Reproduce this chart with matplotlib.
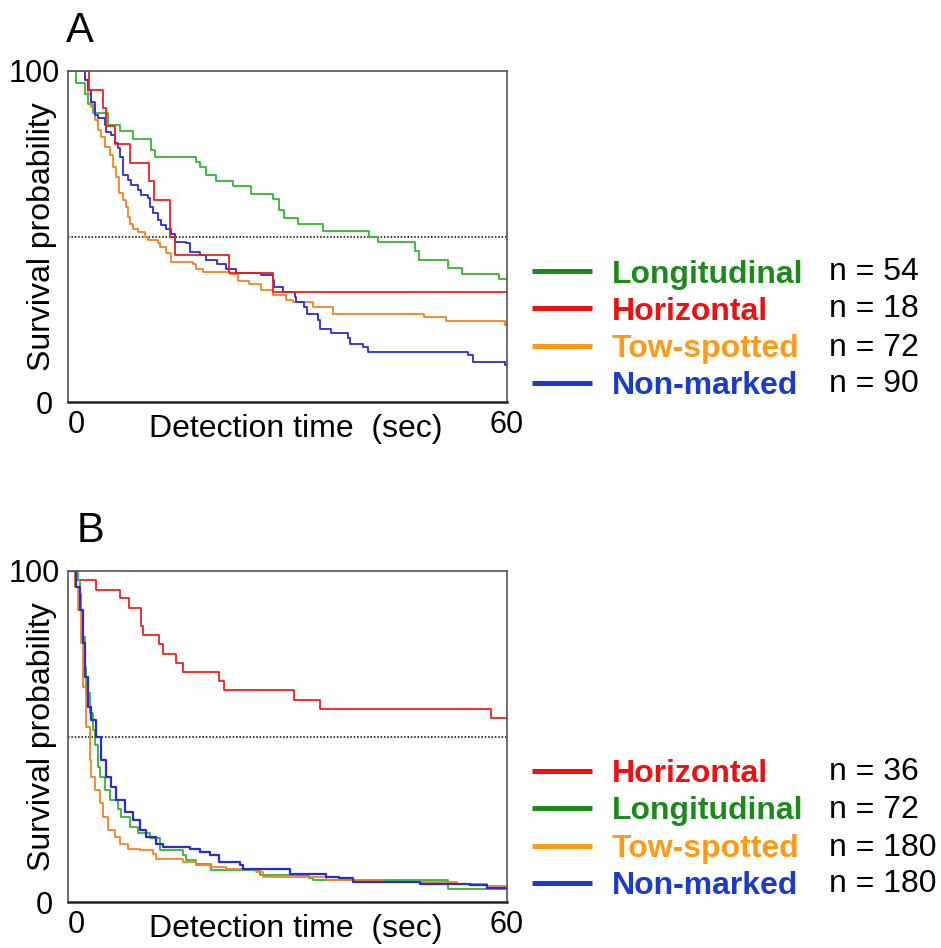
import matplotlib
matplotlib.use("Agg")
import matplotlib.pyplot as plt
from matplotlib.lines import Line2D

plt.rcParams['font.family'] = ['Liberation Sans', 'DejaVu Sans']

# ---------------- Panel A data ----------------
a_long_t = [0, 1.05, 2.3, 2.8, 3.4, 5.47, 7.06, 8.88, 11.39, 11.85, 17.54, 18.0, 18.9, 20.2, 22.6,
            25.0, 28.0, 28.9, 29.5, 31.5, 34.9, 41.1, 42.4, 47.4, 48.0, 51.9, 53.9, 58.9, 60]
a_long_s = [100, 96.3, 93, 90, 87.4, 83.7, 82.0, 79.4, 76.1, 74.1, 72.6, 70.9, 68.5, 66.8, 65.2,
            62.8, 61.2, 58.0, 55.7, 53.9, 51.7, 49.9, 48.4, 45.7, 42.8, 40.6, 38.8, 37.3, 37.3]

a_hor_t = [0, 2.9, 4.78, 5.2, 6.38, 8.43, 11.07, 11.75, 13.9, 14.6, 21.96, 28.0, 60]
a_hor_s = [100, 94.4, 88.9, 83.3, 77.8, 72.2, 66.7, 61.1, 50.0, 44.4, 38.9, 33.3, 33.3]

a_tow_t = [0, 2.28, 2.73, 3.19, 3.64, 4.1, 4.56, 5.01, 5.69, 6.15, 6.61, 6.97, 7.52, 7.97, 8.2,
           8.43, 8.88, 9.57, 10.48, 10.93, 12.3, 12.53, 13.44, 14.12, 17.08, 17.54, 18.45, 22.1,
           23.2, 24.8, 26.4, 28.0, 29.8, 30.75, 33.5, 36.2, 48.7, 51.7, 59.7, 60]
a_tow_s = [100, 97.3, 93.1, 89.1, 85.1, 82.1, 80.1, 77.1, 74.6, 71.1, 68.0, 63.0, 61.0, 59.0, 55.9,
           53.9, 52.4, 51.4, 49.9, 48.9, 48.1, 46.9, 44.9, 42.3, 41.8, 40.3, 39.3, 38.8,
           36.6, 35.6, 33.8, 32.3, 30.9, 30.2, 28.7, 26.7, 25.7, 24.5, 23.2, 23.2]

a_non_t = [0, 2.28, 2.73, 3.19, 3.64, 4.1, 5.01, 5.24, 5.92, 6.38, 6.83, 7.06, 7.52, 8.2, 8.66,
           9.57, 10.02, 10.93, 11.16, 11.62, 12.3, 12.76, 13.44, 14.12, 14.58, 16.17, 16.63, 18.0,
           18.9, 20.3, 21.6, 23.0, 26.4, 28.0, 28.2, 29.4, 31.0, 31.2, 32.3, 32.6, 34.2, 34.4,
           36.0, 38.3, 38.5, 40.3, 41.0, 54.7, 55.4, 59.7, 60]
a_non_s = [100, 97.3, 94.3, 90.7, 86.7, 85.7, 83.7, 81.7, 80.6, 78.1, 76.6, 74.1, 68.5, 67.0, 65.5,
           64.0, 62.5, 61.5, 59.0, 57.0, 54.9, 53.4, 52.4, 50.9, 48.4, 47.9, 45.4, 44.4,
           42.8, 41.6, 40.3, 39.1, 38.3, 36.8, 34.8, 33.3, 31.8, 30.2, 28.7, 26.7, 24.7, 22.2,
           20.7, 19.2, 17.6, 16.6, 15.1, 14.1, 12.1, 11.1, 11.1]

# ---------------- Panel B data ----------------
b_hor_t = [0, 0.91, 3.87, 7.06, 8.34, 9.93, 10.25, 12.5, 12.98, 14.8, 15.7, 20.6, 21.3, 30.9, 34.5, 57.8, 60]
b_hor_s = [100, 97.2, 94.4, 91.7, 88.9, 83.3, 80.6, 77.8, 75.0, 72.2, 69.4, 66.7, 63.9, 61.1, 58.3, 55.6, 55.6]

b_long_t = [0, 1.37, 1.59, 1.82, 2.05, 2.28, 2.51, 2.96, 3.42, 3.64, 4.1, 4.33, 5.01, 5.69, 6.83,
            7.29, 8.43, 9.57, 11.16, 12.53, 15.72, 16.17, 17.54, 19.6, 26.2, 33.0, 33.5, 51.9, 60]
b_long_s = [100, 97.3, 93.2, 88.2, 80.1, 71.1, 63.0, 57.0, 51.9, 47.4, 40.8, 37.8, 33.8, 30.7, 28.2,
            25.7, 22.7, 20.7, 19.2, 15.6, 14.1, 12.6, 11.6, 9.6, 8.1, 7.1, 6.6, 4.0, 4.0]

b_tow_t = [0, 0.91, 1.37, 1.82, 2.05, 2.51, 2.96, 3.19, 3.64, 4.33, 4.78, 5.47, 6.38, 7.06, 8.2,
           9.8, 11.62, 12.07, 15.72, 17.54, 19.36, 21.6, 25.7, 26.65, 35.3, 43.1, 53.1, 57.2, 60]
b_tow_s = [100, 95.3, 88.2, 78.1, 65.0, 52.9, 42.8, 37.8, 33.8, 29.8, 25.7, 21.7, 19.7, 17.6, 16.1,
           15.6, 14.6, 13.1, 12.1, 11.1, 10.6, 10.1, 9.1, 7.6, 6.6, 6.0, 5.5, 4.7, 4.3]

b_non_t = [0, 1.14, 1.59, 2.05, 2.28, 2.73, 3.19, 3.87, 4.56, 5.24, 5.92, 6.61, 7.74, 8.88, 9.8,
           10.7, 12.07, 12.98, 16.63, 18.0, 19.36, 20.7, 23.5, 23.9, 30.3, 35.3, 37.1, 38.95, 48.1,
           54.9, 57.2, 60]
b_non_s = [100, 95.3, 88.2, 78.1, 68.0, 59.0, 54.9, 49.9, 42.8, 37.8, 34.8, 30.7, 27.2, 24.7, 21.7,
           19.7, 17.6, 16.6, 16.1, 15.1, 14.1, 12.1, 11.1, 10.1, 8.6, 7.6, 7.1, 6.0, 5.5,
           5.0, 4.3, 4.0]

# legend content
a_labels = ['Longitudinal', 'Horizontal', 'Tow-spotted', 'Non-marked']
a_counts = ['n = 54', 'n = 18', 'n = 72', 'n = 90']
b_labels = ['Horizontal', 'Longitudinal', 'Tow-spotted', 'Non-marked']
b_counts = ['n = 36', 'n = 72', 'n = 180', 'n = 180']

x_ticks = [0, 60]
y_ticks = [0, 100]

# colours
curve_col = {'Longitudinal': '#33b533', 'Horizontal': '#ee2020',
             'Tow-spotted': '#f5821f', 'Non-marked': '#2a2ad6'}
legend_col = {'Longitudinal': '#1b8a1b', 'Horizontal': '#ee1111',
              'Tow-spotted': '#ff9a18', 'Non-marked': '#1a3cc8'}

W, H = 941, 948
fig = plt.figure(figsize=(W / 100, H / 100), dpi=100)

axA = fig.add_axes([68 / W, 1 - 402 / H, 439 / W, 331 / H])
axB = fig.add_axes([68 / W, 1 - 902 / H, 439 / W, 331 / H])


def style(ax):
    ax.set_xlim(0, 60)
    ax.set_ylim(0, 100)
    ax.set_xticks(x_ticks)
    ax.set_yticks(y_ticks)
    ax.tick_params(length=0, labelsize=22)
    ax.tick_params(axis='x', pad=6)
    xt = ax.xaxis.get_major_ticks()
    xt[0].label1.set_horizontalalignment('left')
    yt = ax.yaxis.get_major_ticks()
    yt[0].set_pad(11)
    yt[1].set_pad(6)
    for side in ['left', 'top', 'right']:
        ax.spines[side].set_color('#555555')
        ax.spines[side].set_linewidth(1.2)
    ax.spines['bottom'].set_color('#222222')
    ax.spines['bottom'].set_linewidth(1.8)
    ax.axhline(50, color='black', lw=1.1, ls=(0, (1, 1.2)), zorder=1)
    ax.set_xlabel('Detection time  (sec)', fontsize=23, va='center')
    ax.xaxis.set_label_coords(0.519, -0.082)
    ax.set_ylabel('Survival probability', fontsize=23, va='center')
    ax.yaxis.set_label_coords(-0.06, 0.5)


style(axA)
style(axB)

axA.step(a_long_t, a_long_s, where='post', color=curve_col['Longitudinal'], lw=1.3)
axA.step(a_tow_t, a_tow_s, where='post', color=curve_col['Tow-spotted'], lw=1.3)
axA.step(a_non_t, a_non_s, where='post', color=curve_col['Non-marked'], lw=1.3)
axA.step(a_hor_t, a_hor_s, where='post', color=curve_col['Horizontal'], lw=1.3)

axB.step(b_hor_t, b_hor_s, where='post', color=curve_col['Horizontal'], lw=1.3)
axB.step(b_long_t, b_long_s, where='post', color=curve_col['Longitudinal'], lw=1.3)
axB.step(b_tow_t, b_tow_s, where='post', color=curve_col['Tow-spotted'], lw=1.3)
axB.step(b_non_t, b_non_s, where='post', color=curve_col['Non-marked'], lw=1.6)

fig.text(80 / W, 1 - 42 / H, 'A', fontsize=30, ha='center', va='baseline')
fig.text(90 / W, 1 - 542 / H, 'B', fontsize=30, ha='center', va='baseline')


def legend(labels, counts, rows):
    for lab, cnt, y in zip(labels, counts, rows):
        fig.add_artist(Line2D([532 / W, 592 / W], [1 - y / H] * 2, lw=3.6,
                              color=legend_col[lab], solid_capstyle='butt'))
        fig.text(612 / W, 1 - (y + 11.5) / H, lab, fontsize=23, fontweight='bold',
                 color=legend_col[lab], ha='left', va='baseline')
        fig.text(829 / W, 1 - (y + 9.5) / H, cnt, fontsize=23, color='black',
                 ha='left', va='baseline')


legend(a_labels, a_counts, [271, 308, 346, 383])
legend(b_labels, b_counts, [771, 808, 846, 883])

fig.savefig('out.png', dpi=100)
